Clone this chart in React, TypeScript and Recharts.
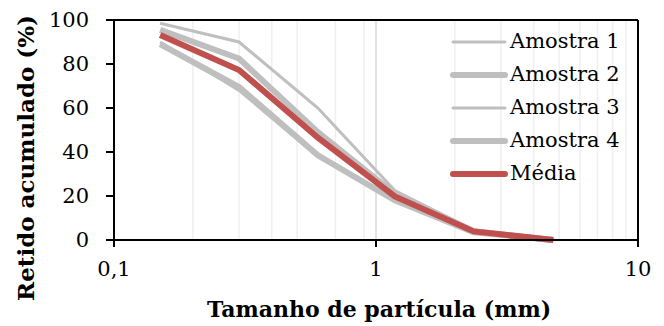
import React from 'react';
import { LineChart, Line, XAxis, YAxis, CartesianGrid } from 'recharts';

const sizes = [0.15, 0.3, 0.6, 1.18, 2.36, 4.75];
const amostra1 = [98.5, 90, 60, 22.5, 4.5, 0.3];
const amostra2 = [95.5, 82.5, 49, 21, 4, 0];
const amostra3 = [90, 68, 38, 18.5, 3.5, 0];
const amostra4 = [89, 69.5, 38.5, 18, 3.5, 0];
const media = [93.2, 77.3, 46.5, 19.8, 3.9, 0];
const xTicks = [0.1, 1, 10];
const yTicks = [0, 20, 40, 60, 80, 100];
const minorGrid = [0.2, 0.3, 0.4, 0.5, 0.6, 0.7, 0.8, 0.9, 2, 3, 4, 5, 6, 7, 8, 9];
const majorGrid = [1];

const data = sizes.map((x, i) => ({
  x,
  a1: amostra1[i],
  a2: amostra2[i],
  a3: amostra3[i],
  a4: amostra4[i],
  m: media[i],
}));

const FONT = '"DejaVu Serif", serif';
const GRAY = '#BFBFBF';
const RED = '#C0504D';

const series = [
  { key: 'a1', name: 'Amostra 1', color: GRAY, width: 3 },
  { key: 'a2', name: 'Amostra 2', color: GRAY, width: 6 },
  { key: 'a3', name: 'Amostra 3', color: GRAY, width: 3 },
  { key: 'a4', name: 'Amostra 4', color: GRAY, width: 6 },
  { key: 'm', name: 'Média', color: RED, width: 6 },
];

const LegendBox = () => (
  <div
    style={{
      position: 'absolute',
      top: 25,
      left: 450,
      width: 200,
      fontFamily: FONT,
      fontSize: 21,
      color: '#000',
      pointerEvents: 'none',
    }}
  >
    {series.map((s) => (
      <div key={s.key} style={{ display: 'flex', alignItems: 'center', height: 33 }}>
        <svg width={58} height={12} style={{ display: 'block' }}>
          <line x1={3} y1={6} x2={55} y2={6} stroke={s.color} strokeWidth={s.width} strokeLinecap="round" />
        </svg>
        <span style={{ marginLeft: 2, lineHeight: '33px' }}>{s.name}</span>
      </div>
    ))}
  </div>
);

const YLabel = () => {
  const cx = 25;
  const cy = 158;
  return (
    <text
      x={cx}
      y={cy}
      transform={`rotate(-90, ${cx}, ${cy})`}
      textAnchor="middle"
      dominantBaseline="central"
      fontFamily={FONT}
      fontWeight="bold"
      fontSize={23}
      fill="#000"
    >
      Retido acumulado (%)
    </text>
  );
};

const XLabel = (props: any) => {
  const vb = props.viewBox || {};
  const cx = vb.x + vb.width / 2 + 3;
  return (
    <text
      x={cx}
      y={309}
      textAnchor="middle"
      dominantBaseline="central"
      fontFamily={FONT}
      fontWeight="bold"
      fontSize={22}
      fill="#000"
    >
      Tamanho de partícula (mm)
    </text>
  );
};

export default function App() {
  return (
    <div style={{ position: 'absolute', left: 0, top: 0, width: 664, height: 326, background: '#fff' }}>
      <LineChart width={664} height={326} data={data} margin={{ top: 18, right: 24, left: 0, bottom: 0 }}>
        <CartesianGrid horizontal={false} vertical={true} stroke="#EFEFEF" strokeWidth={1.5} verticalValues={minorGrid} />
        <CartesianGrid horizontal={false} vertical={true} stroke="#D9D9D9" strokeWidth={1.5} verticalValues={majorGrid} />
        <XAxis
          xAxisId="top"
          orientation="top"
          dataKey="x"
          type="number"
          scale="log"
          domain={[0.1, 10]}
          allowDataOverflow
          height={2}
          tick={false}
          tickLine={false}
          stroke="#000"
          strokeWidth={2}
        />
        <YAxis
          yAxisId="right"
          orientation="right"
          type="number"
          domain={[0, 100]}
          width={2}
          tick={false}
          tickLine={false}
          stroke="#000"
          strokeWidth={2}
        />
        <XAxis
          dataKey="x"
          type="number"
          scale="log"
          domain={[0.1, 10]}
          ticks={xTicks}
          allowDataOverflow
          height={86}
          tickSize={7}
          tickMargin={14}
          stroke="#000"
          strokeWidth={2}
          tickFormatter={(v: number) => String(v).replace('.', ',')}
          tick={{ fontFamily: FONT, fontSize: 21, fill: '#000' }}
          label={<XLabel />}
        />
        <YAxis
          type="number"
          domain={[0, 100]}
          ticks={yTicks}
          width={114}
          tickSize={8}
          tickMargin={17}
          stroke="#000"
          strokeWidth={2}
          tick={{ fontFamily: FONT, fontSize: 21, fill: '#000' }}
          label={<YLabel />}
        />
        <Line dataKey="a1" name="Amostra 1" stroke={GRAY} strokeWidth={3} dot={false} activeDot={false} isAnimationActive={false} />
        <Line dataKey="a2" name="Amostra 2" stroke={GRAY} strokeWidth={6} dot={false} activeDot={false} isAnimationActive={false} />
        <Line dataKey="a3" name="Amostra 3" stroke={GRAY} strokeWidth={3} dot={false} activeDot={false} isAnimationActive={false} />
        <Line dataKey="a4" name="Amostra 4" stroke={GRAY} strokeWidth={6} dot={false} activeDot={false} isAnimationActive={false} />
        <Line dataKey="m" name="Média" stroke={RED} strokeWidth={6} dot={false} activeDot={false} isAnimationActive={false} />
      </LineChart>
      <LegendBox />
    </div>
  );
}
